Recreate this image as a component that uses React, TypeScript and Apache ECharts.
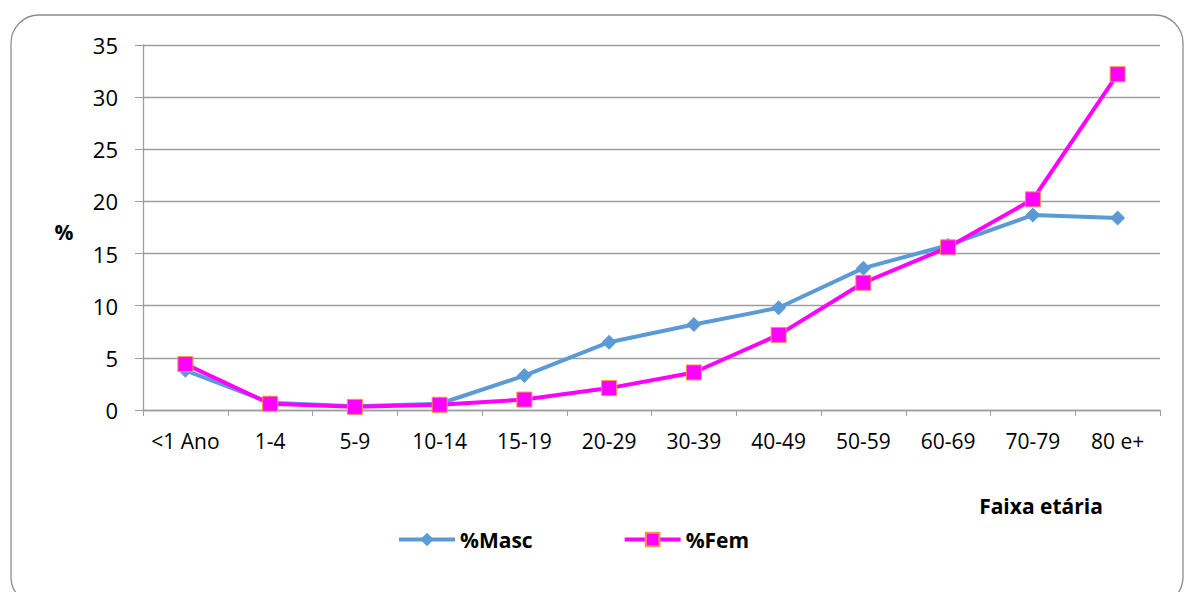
import React, { useEffect, useRef } from "react";
import * as echarts from "echarts";

const categories = ["<1 Ano", "1-4", "5-9", "10-14", "15-19", "20-29", "30-39", "40-49", "50-59", "60-69", "70-79", "80 e+"];
const masc = [3.8, 0.7, 0.35, 0.6, 3.3, 6.5, 8.2, 9.8, 13.6, 15.8, 18.7, 18.4];
const fem = [4.4, 0.6, 0.3, 0.5, 1.0, 2.1, 3.6, 7.2, 12.2, 15.6, 20.2, 32.2];
const yTicks = { min: 0, max: 35, interval: 5 };

const FONT = "'Open Sans', sans-serif";

export default function App() {
  const ref = useRef<HTMLDivElement>(null);
  useEffect(() => {
    const chart = echarts.init(ref.current!, null, { renderer: "svg" });
    chart.setOption({
      animation: false,
      backgroundColor: "#ffffff",
      textStyle: { fontFamily: FONT },
      graphic: [
        {
          type: "rect",
          shape: { x: 11, y: 15, width: 1172, height: 590, r: 28 },
          style: { fill: "none", stroke: "#8c8c8c", lineWidth: 1.3 },
          z: -1,
        },
        {
          type: "text",
          x: 64,
          y: 232,
          style: { text: "%", font: `bold 21px ${FONT}`, fill: "#000", align: "center", verticalAlign: "middle" },
        },
        {
          type: "text",
          x: 1041,
          y: 506,
          style: { text: "Faixa etária", font: `bold 21px ${FONT}`, fill: "#000", align: "center", verticalAlign: "middle" },
        },
      ],
      grid: { left: 143, right: 24, top: 45, bottom: 182, containLabel: false },
      legend: {
        left: 392,
        top: 524,
        itemGap: 90,
        itemWidth: 56,
        itemHeight: 17,
        lineStyle: { width: 4 },
        textStyle: { fontFamily: FONT, fontWeight: "bold", fontSize: 21, color: "#000" },
        data: ["%Masc", "%Fem"],
      },
      xAxis: {
        type: "category",
        data: categories,
        boundaryGap: true,
        axisLine: { lineStyle: { color: "#9e9e9e", width: 1.3 } },
        axisTick: { show: true, length: 6, interval: 0, lineStyle: { color: "#9e9e9e" } },
        axisLabel: { color: "#000", fontSize: 21, fontFamily: FONT, margin: 20, interval: 0, hideOverlap: false },
      },
      yAxis: {
        type: "value",
        min: yTicks.min,
        max: yTicks.max,
        interval: yTicks.interval,
        axisLine: { show: true, lineStyle: { color: "#9e9e9e", width: 1.3 } },
        axisTick: { show: true, length: 8, lineStyle: { color: "#9e9e9e" } },
        axisLabel: { color: "#000", fontSize: 22, fontFamily: FONT, margin: 25 },
        splitLine: { show: true, lineStyle: { color: "#9e9e9e", width: 1.3 } },
      },
      series: [
        {
          name: "%Masc",
          type: "line",
          data: masc,
          symbol: "diamond",
          symbolSize: 15,
          lineStyle: { color: "#5B9BD5", width: 4 },
          itemStyle: { color: "#5B9BD5" },
        },
        {
          name: "%Fem",
          type: "line",
          data: fem,
          symbol: "rect",
          symbolSize: 15,
          lineStyle: { color: "#FF00FF", width: 4 },
          itemStyle: { color: "#FF00FF", borderColor: "#F79646", borderWidth: 1 },
        },
      ],
    });
    return () => chart.dispose();
  }, []);
  return (
    <div
      ref={ref}
      style={{ position: "fixed", left: 0, top: 0, width: 1184, height: 592 }}
    />
  );
}
